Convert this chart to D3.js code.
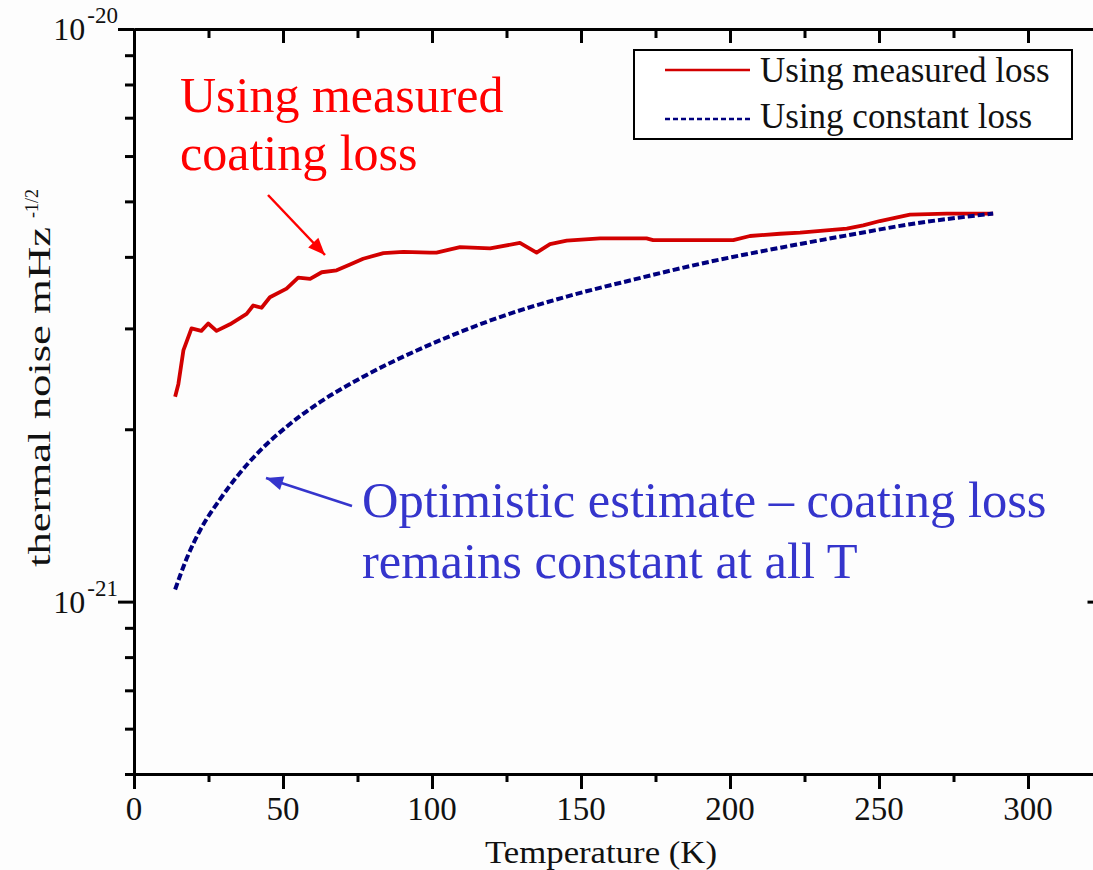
<!DOCTYPE html>
<html>
<head>
<meta charset="utf-8">
<script src="https://cdn.jsdelivr.net/npm/d3@7"></script>
<style>
  html, body { margin: 0; padding: 0; background: #fdfdfd; }
  svg { display: block; font-family: "Liberation Serif", "Times New Roman", serif; }
</style>
</head>
<body>
<svg id="chart" width="1093" height="870"></svg>
<script>
// ---- data ----
const measuredT = [13.8, 14.9, 16.6, 19.3, 22.6, 24.9, 27.7, 32.2, 37.8, 40.0, 42.8, 45.6, 51.2, 55.1, 59.1, 63.0, 68.0, 72.5, 76.9, 83.7, 90.4, 99.3, 101.5, 109.4, 119.5, 129.5, 135.1, 139.6, 145.2, 156.4, 172.0, 174.2, 201.1, 206.7, 216.8, 223.5, 239.2, 244.7, 250.3, 260.4, 272.7, 288.3];
const measuredNoise = [2.28e-21, 2.40e-21, 2.75e-21, 3.00e-21, 2.97e-21, 3.06e-21, 2.97e-21, 3.05e-21, 3.18e-21, 3.29e-21, 3.26e-21, 3.40e-21, 3.52e-21, 3.68e-21, 3.66e-21, 3.76e-21, 3.79e-21, 3.88e-21, 3.97e-21, 4.06e-21, 4.08e-21, 4.07e-21, 4.07e-21, 4.16e-21, 4.14e-21, 4.23e-21, 4.07e-21, 4.21e-21, 4.27e-21, 4.31e-21, 4.31e-21, 4.28e-21, 4.28e-21, 4.35e-21, 4.39e-21, 4.41e-21, 4.48e-21, 4.54e-21, 4.62e-21, 4.74e-21, 4.76e-21, 4.76e-21];
const constantT = [13.8, 17.7, 22.1, 28.9, 34.4, 42.3, 51.2, 62.4, 76.9, 99.3, 122.8, 145.2, 167.6, 190.0, 216.8, 239.2, 261.5, 288.3];
const constantNoise = [1.05e-21, 1.19e-21, 1.33e-21, 1.51e-21, 1.65e-21, 1.835e-21, 2.02e-21, 2.23e-21, 2.47e-21, 2.81e-21, 3.14e-21, 3.41e-21, 3.65e-21, 3.89e-21, 4.15e-21, 4.36e-21, 4.57e-21, 4.76e-21];
const xMajorTicks = [0, 50, 100, 150, 200, 250, 300];
const xMinorTicks = [25, 75, 125, 175, 225, 275, 325];
const yMajorTicks = [1e-20, 1e-21];
const yMajorLabels = [["10", "-20"], ["10", "-21"]];
const yMinorTicks = [9e-21, 8e-21, 7e-21, 6e-21, 5e-21, 4e-21, 3e-21, 2e-21, 9e-22, 8e-22, 7e-22, 6e-22, 5e-22];
const seriesNames = ["Using measured loss", "Using constant loss"];
const xTitle = "Temperature (K)";
const yTitle = "thermal noise mHz";
const yTitleSup = "-1/2";

// ---- layout ----
const svg = d3.select("#chart");
const pLeft = 134, pRight = 1102.5, pTop = 29, pBottom = 774;
const x = d3.scaleLinear().domain([0, 325]).range([pLeft, pRight]);
const y = d3.scaleLog().domain([5e-22, 1e-20]).range([pBottom, pTop]);

const redC = "#d20000", blueC = "#00007e", annRed = "#ff0000", annBlue = "#3535cc";

function styleAxis(g) {
  g.select(".domain").attr("stroke", "#000").attr("stroke-width", 3);
  g.selectAll(".tick line").attr("stroke", "#000").attr("stroke-width", 3);
  g.selectAll(".tick text").remove();
}

// bottom axis
svg.append("g").attr("transform", `translate(0,${pBottom})`)
  .call(d3.axisBottom(x).tickValues(xMinorTicks).tickSize(8).tickSizeOuter(0)).call(styleAxis);
svg.append("g").attr("transform", `translate(0,${pBottom})`)
  .call(d3.axisBottom(x).tickValues(xMajorTicks).tickSize(15).tickSizeOuter(0)).call(styleAxis);
// top axis (ticks inward)
svg.append("g").attr("transform", `translate(0,${pTop})`)
  .call(d3.axisBottom(x).tickValues(xMinorTicks).tickSize(9).tickSizeOuter(0)).call(styleAxis);
svg.append("g").attr("transform", `translate(0,${pTop})`)
  .call(d3.axisBottom(x).tickValues(xMajorTicks).tickSize(14).tickSizeOuter(0)).call(styleAxis);
// left axis (outward)
svg.append("g").attr("transform", `translate(${pLeft},0)`)
  .call(d3.axisLeft(y).tickValues(yMinorTicks).tickSize(9).tickSizeOuter(0)).call(styleAxis);
svg.append("g").attr("transform", `translate(${pLeft},0)`)
  .call(d3.axisLeft(y).tickValues(yMajorTicks).tickSize(16).tickSizeOuter(0)).call(styleAxis);
// right axis (inward)
svg.append("g").attr("transform", `translate(${pRight},0)`)
  .call(d3.axisLeft(y).tickValues(yMinorTicks).tickSize(8).tickSizeOuter(0)).call(styleAxis);
svg.append("g").attr("transform", `translate(${pRight},0)`)
  .call(d3.axisLeft(y).tickValues(yMajorTicks).tickSize(15).tickSizeOuter(0)).call(styleAxis);

// x tick labels
svg.append("g").selectAll("text").data(xMajorTicks).join("text")
  .attr("x", d => x(d)).attr("y", 820)
  .attr("text-anchor", "middle").attr("font-size", 33).attr("fill", "#111")
  .text(d => d);

// y tick labels with superscripts
yMajorTicks.forEach((v, i) => {
  const t = svg.append("text").attr("x", 118).attr("y", y(v) + 11)
    .attr("text-anchor", "end").attr("font-size", 32).attr("fill", "#111");
  t.append("tspan").text(yMajorLabels[i][0]);
  t.append("tspan").attr("font-size", 23).attr("dy", -17).attr("dx", 2).text(yMajorLabels[i][1]);
});

// axis titles
svg.append("text").attr("x", 485).attr("y", 863)
  .attr("font-size", 31).attr("fill", "#111")
  .attr("textLength", 232).attr("lengthAdjust", "spacingAndGlyphs").text(xTitle);
svg.append("text").attr("transform", "translate(50,567) rotate(-90)")
  .attr("font-size", 31).attr("fill", "#111")
  .attr("textLength", 340).attr("lengthAdjust", "spacingAndGlyphs").text(yTitle);
svg.append("text").attr("transform", "translate(38,218) rotate(-90)")
  .attr("font-size", 18).attr("fill", "#111").text(yTitleSup);

// lines
const measured = measuredT.map((t, i) => [t, measuredNoise[i]]);
const constant = constantT.map((t, i) => [t, constantNoise[i]]);
svg.append("path").datum(measured)
  .attr("fill", "none").attr("stroke", redC).attr("stroke-width", 3.8).attr("stroke-linejoin", "round")
  .attr("d", d3.line().x(d => x(d[0])).y(d => y(d[1])));
svg.append("path").datum(constant)
  .attr("fill", "none").attr("stroke", blueC).attr("stroke-width", 4).attr("stroke-dasharray", "7,3")
  .attr("d", d3.line().curve(d3.curveMonotoneX).x(d => x(d[0])).y(d => y(d[1])));

// legend
svg.append("rect").attr("x", 634).attr("y", 50).attr("width", 438).attr("height", 89)
  .attr("fill", "#fff").attr("stroke", "#000").attr("stroke-width", 2);
svg.append("line").attr("x1", 665).attr("x2", 750).attr("y1", 70).attr("y2", 70)
  .attr("stroke", redC).attr("stroke-width", 2.5);
svg.append("line").attr("x1", 665).attr("x2", 750).attr("y1", 119).attr("y2", 119)
  .attr("stroke", blueC).attr("stroke-width", 2.5).attr("stroke-dasharray", "5,3");
svg.append("text").attr("x", 760).attr("y", 82).attr("font-size", 35).attr("fill", "#111").text(seriesNames[0]);
svg.append("text").attr("x", 760).attr("y", 128).attr("font-size", 35).attr("fill", "#111").text(seriesNames[1]);

// annotations
function arrow(x1, y1, x2, y2, color, head, w) {
  svg.append("line").attr("x1", x1).attr("y1", y1).attr("x2", x2).attr("y2", y2)
    .attr("stroke", color).attr("stroke-width", 2.5);
  const a = Math.atan2(y2 - y1, x2 - x1);
  const bx = x2 - head * Math.cos(a), by = y2 - head * Math.sin(a);
  const px = -Math.sin(a) * w, py = Math.cos(a) * w;
  svg.append("polygon")
    .attr("points", `${x2},${y2} ${bx + px},${by + py} ${bx - px},${by - py}`)
    .attr("fill", color);
}
svg.append("text").attr("x", 180).attr("y", 112).attr("font-size", 50).attr("fill", annRed).text("Using measured");
svg.append("text").attr("x", 180).attr("y", 170).attr("font-size", 50).attr("fill", annRed).text("coating loss");
arrow(268, 195, 325, 255, annRed, 17, 7);

svg.append("text").attr("x", 362).attr("y", 517).attr("font-size", 50.5).attr("fill", annBlue).text("Optimistic estimate – coating loss");
svg.append("text").attr("x", 362).attr("y", 578).attr("font-size", 50.5).attr("fill", annBlue).text("remains constant at all T");
arrow(352, 506, 266, 478, annBlue, 17, 7);
</script>
</body>
</html>
